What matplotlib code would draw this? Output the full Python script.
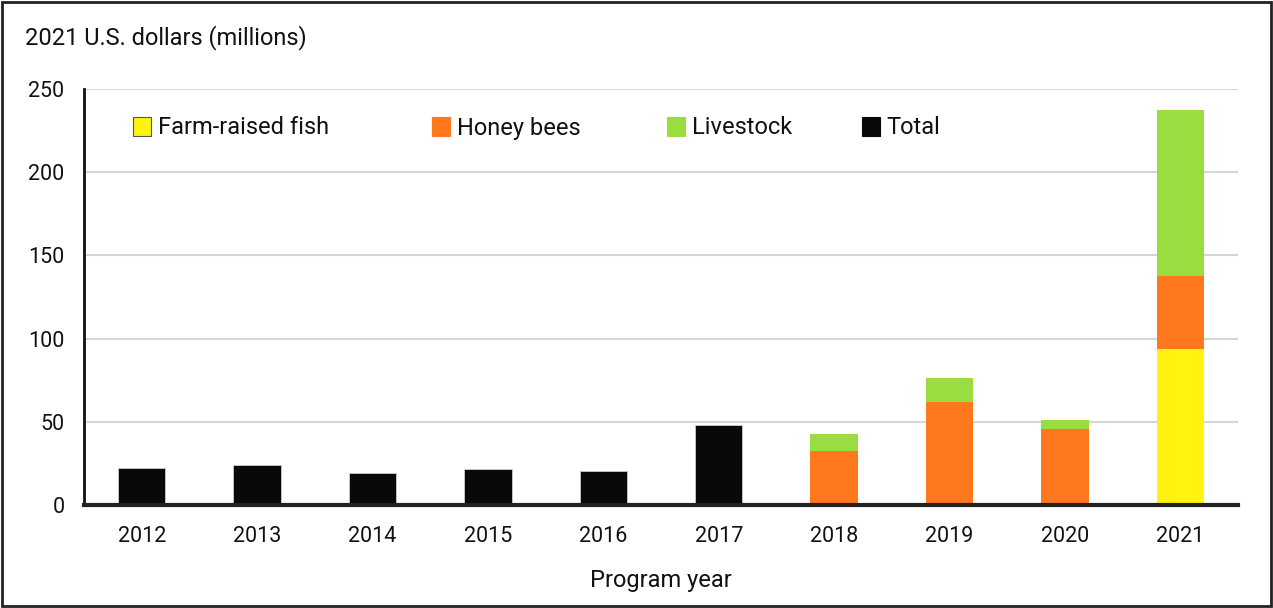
import matplotlib
matplotlib.use("Agg")
import matplotlib.pyplot as plt
from matplotlib.patches import Rectangle, Patch
import numpy as np

plt.rcParams['font.family'] = ['Roboto', 'DejaVu Sans']

years = ['2012', '2013', '2014', '2015', '2016', '2017', '2018', '2019', '2020', '2021']
total = [22.2, 24.0, 19.4, 21.6, 20.4, 47.8, 0, 0, 0, 0]
fish = [0, 0, 0, 0, 0, 0, 0.8, 1.4, 0.6, 93.6]
bees = [0, 0, 0, 0, 0, 0, 31.6, 60.6, 44.8, 43.9]
livestock = [0, 0, 0, 0, 0, 0, 10.0, 14.4, 5.6, 100.0]
yticks = [0, 50, 100, 150, 200, 250]

c_fish = '#fff30f'
c_bees = '#ff781e'
c_live = '#99dd40'
c_total = '#08090a'

fig = plt.figure(figsize=(12.73, 6.08), dpi=100)
ax = fig.add_axes([84/1273, 103/608, (1238-84)/1273, (505-89)/608])

x = np.arange(len(years))
w = 0.41
fish_a = np.array(fish); bees_a = np.array(bees); live_a = np.array(livestock)
ax.bar(x, total, w, color=c_total, edgecolor='#cccccc', linewidth=0.6, zorder=3)
ax.bar(x, fish_a, w, color=c_fish, edgecolor='none', zorder=3)
ax.bar(x, bees_a, w, bottom=fish_a, color=c_bees, edgecolor='none', zorder=3)
ax.bar(x, live_a, w, bottom=fish_a + bees_a, color=c_live, edgecolor='none', zorder=3)

ax.set_xlim(-0.5, len(years) - 0.5)
ax.set_ylim(0, 250)
ax.set_yticks(yticks)
ax.set_yticklabels([str(t) for t in yticks])
ax.set_xticks(x)
ax.set_xticklabels(years)
ax.tick_params(axis='both', length=0, labelsize=15.5, colors='#111111')
ax.tick_params(axis='y', pad=14)
ax.tick_params(axis='x', pad=15)
ax.grid(axis='y', color='#d6d6d6', linewidth=1.5, zorder=0)
for s in ['top', 'right']:
    ax.spines[s].set_visible(False)
ax.spines['left'].set_linewidth(2)
ax.spines['left'].set_color('#111111')
ax.spines['bottom'].set_linewidth(3)
ax.spines['bottom'].set_color('#222222')
ax.spines['left'].set_zorder(4)
ax.spines['bottom'].set_zorder(4)

ax.set_xlabel('Program year', fontsize=17, color='#111111', labelpad=16)
fig.text(25/1273, 1 - 38/608, '2021 U.S. dollars (millions)', fontsize=17,
         color='#111111', ha='left', va='center')

# legend entries placed individually
entries = [('Farm-raised fish', c_fish, 133), ('Honey bees', c_bees, 432),
           ('Livestock', c_live, 667), ('Total', c_total, 862)]
for label, col, px in entries:
    h = Patch(facecolor=col, edgecolor='#555555' if col == c_fish else col, linewidth=0.8)
    leg = fig.legend(handles=[h], labels=[label], loc='center left',
                     bbox_to_anchor=(px / 1273, 1 - 128 / 608),
                     frameon=False, fontsize=17, handlelength=0.75, handleheight=0.85,
                     handletextpad=0.3, borderpad=0, borderaxespad=0)
    for t in leg.get_texts():
        t.set_color('#111111')

fig.patches.append(Rectangle((0.0015, 0.003), 0.997, 0.994, transform=fig.transFigure,
                             fill=False, edgecolor='#222222', linewidth=2))

fig.savefig('out.png', dpi=100)
